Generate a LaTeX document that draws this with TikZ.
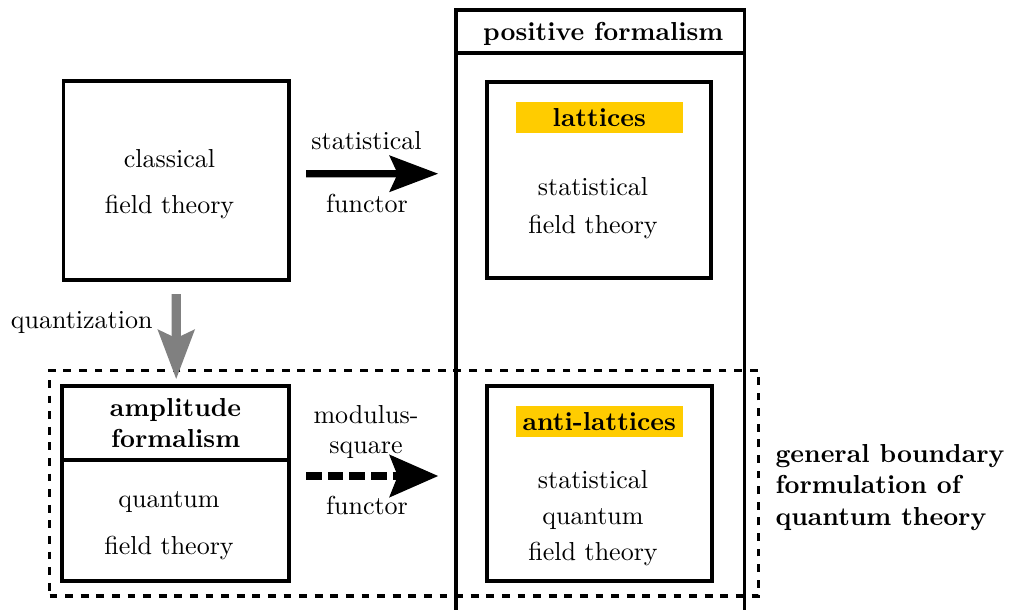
\documentclass[tikz,border=0pt]{standalone}
\usetikzlibrary{arrows.meta,calc}
\definecolor{hl}{RGB}{255,204,0}
\definecolor{qgray}{RGB}{128,128,128}
\newcommand{\pxu}{0.3846pt}
\begin{document}
\begin{tikzpicture}[x=0.3846pt,y=-0.3846pt,
  box/.style={draw,line width=1.5pt,outer sep=0pt,inner sep=0pt},
  gbox/.style={draw,line width=1.3pt,dashed,outer sep=0pt,inner sep=0pt},
  txt/.style={anchor=base,align=center,inner sep=0pt},
  btxt/.style={txt,font=\bfseries},
  hlbox/.style={fill=hl,inner sep=0pt,text depth=0pt,font=\bfseries},
  fatarrow/.style={line width=2.8pt,-{Stealth[length=18.6pt,width=13.7pt,inset=3pt]}},
  dasharrow/.style={line width=3pt,dash pattern=on 6pt off 2.3pt,-{Stealth[length=18.6pt,width=16pt,inset=3pt]}},
  grayarrow/.style={line width=3.5pt,draw=qgray,-{Stealth[length=18.8pt,width=13.7pt,inset=3pt,fill=qgray]}}]
\clip (0,0) rectangle (1011,609);
% boxes
\node[box,minimum width=225.5*\pxu,minimum height=199*\pxu] (cls) at (176.25,180.5) {};
\node[box,minimum width=288.2*\pxu,minimum height=630*\pxu] (pos) at (600.4,325) {};
\draw[line width=1.5pt] ($(pos.north west)+(0,42.8)$) -- ($(pos.north east)+(0,42.8)$);
\node[box,minimum width=224.4*\pxu,minimum height=196*\pxu] (lat) at (599.2,180) {};
\node[box,minimum width=227*\pxu,minimum height=195*\pxu] (amp) at (175.8,483.5) {};
\draw[line width=1.5pt] ($(amp.north west)+(0,74)$) -- ($(amp.north east)+(0,74)$);
\node[box,minimum width=225*\pxu,minimum height=195.3*\pxu] (anti) at (599.5,483.2) {};
\node[gbox,minimum width=709.3*\pxu,minimum height=225.5*\pxu] (gbf) at (404.15,483.25) {};
% highlights
\node[hlbox,minimum width=166.7*\pxu,minimum height=31*\pxu] (lath) at (599.3,117.2) {lattices};
\node[hlbox,minimum width=166.7*\pxu,minimum height=30.7*\pxu] (antih) at (599.3,421.3) {anti-lattices};
% texts (base anchor = baseline of last line)
\node[txt] (clst) at (169.5,213.5) {classical\\[5.7pt]field theory};
\node[txt] (statl) at (366.5,149) {statistical};
\node[txt] (fun1) at (367,212) {functor};
\node[btxt] (post) at (603.3,40) {positive formalism};
\node[txt] (latt) at (593,233) {statistical\\[2.4pt]field theory};
\node[txt,anchor=base east] (quant) at (153,328) {quantization};
\node[btxt] (ampt) at (175.6,447.3) {amplitude\\formalism};
\node[txt] (ampb) at (169,554) {quantum\\[5.7pt]field theory};
\node[txt] (modl) at (366,453) {modulus-\\[-0.5pt]square};
\node[txt] (fun2) at (367,514) {functor};
\node[txt] (antit) at (593,560) {statistical\\[1.8pt]quantum\\[1.8pt]field theory};
\node[txt,font=\bfseries,align=left,anchor=base west] (gbft) at (775,525) {general boundary\\formulation of\\quantum theory};
% arrows
\draw[fatarrow] ($(cls.east)+(17,-6.8)$) -- ($(lat.west)+(-48.7,-6.3)$);
\draw[grayarrow] ($(cls.south)+(0,14)$) -- ($(amp.north)+(0.4,-6.7)$);
\draw[dasharrow] ($(amp.east)+(17,-7.5)$) -- ($(anti.west)+(-48.7,-7.2)$);
\end{tikzpicture}
\end{document}
